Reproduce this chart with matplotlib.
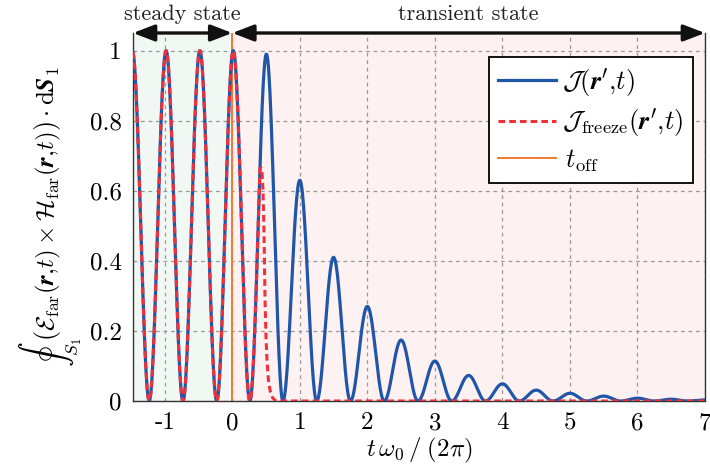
import numpy as np
import matplotlib
matplotlib.use('Agg')
import matplotlib.pyplot as plt
from matplotlib.ticker import FuncFormatter

plt.rcParams['font.family'] = 'serif'
plt.rcParams['font.serif'] = ['cmr10']
plt.rcParams['mathtext.fontset'] = 'cm'
plt.rcParams['axes.unicode_minus'] = False

# zeros of the blue curve and the height of each lobe between them
zero_t = [-1.73, -1.23, -0.73, -0.23, 0.26, 0.75, 1.25, 1.75, 2.25, 2.75,
          3.25, 3.75, 4.25, 4.75, 5.25, 5.75, 6.25, 6.75, 7.25]
lobe_peak = [1.0, 1.0, 1.0, 1.0, 0.99, 0.63, 0.41, 0.27, 0.174, 0.114,
             0.073, 0.049, 0.031, 0.022, 0.014, 0.008, 0.005, 0.003]

# frozen curve: follows the blue one until t_freeze, then falls off
t_freeze = 0.41
cut_t = [0.425, 0.44, 0.455, 0.47, 0.485, 0.50, 0.514, 0.535, 0.56, 0.60, 0.65, 7.0]
cut_v = [0.665, 0.655, 0.60, 0.48, 0.29, 0.18, 0.117, 0.06, 0.03, 0.008, 0.0, 0.0]

t_off = 0.0
x_min, x_max = -1.47, 7.0
x_ticks = [-1, 0, 1, 2, 3, 4, 5, 6, 7]
y_ticks = [0, 0.2, 0.4, 0.6, 0.8, 1]

blue = '#1f56a8'
red = '#f0303a'
orange = '#f07a30'


def lobes(zeros, peaks, n=60):
    ts, vs = [], []
    for a, b, h in zip(zeros[:-1], zeros[1:], peaks):
        s = np.linspace(0, 1, n)
        ts.append(a + (b - a) * s)
        vs.append(h * np.sin(np.pi * s) ** 2)
    return np.concatenate(ts), np.concatenate(vs)


t_j, v_j = lobes(zero_t, lobe_peak)
keep = t_j <= t_freeze
t_f = np.concatenate([t_j[keep], cut_t])
v_f = np.concatenate([v_j[keep], cut_v])

fig = plt.figure(figsize=(7.10, 4.68), dpi=100)
ax = fig.add_axes([133 / 710, 67 / 468, 572 / 710, 368 / 468])

ax.axvspan(x_min, t_off, color='#f1f8f3', zorder=0, lw=0)
ax.axvspan(t_off, x_max, color='#fdf1f1', zorder=0, lw=0)

ax.plot(t_j, v_j, color=blue, lw=2.3, label=r'$\boldsymbol{\mathcal{J}}(\boldsymbol{r}^{\prime}{,}t)$', zorder=3)
ax.plot(t_f, v_f, color=red, lw=2.2, dashes=(2.2, 1.3),
        label=r'$\boldsymbol{\mathcal{J}}_{\mathrm{freeze}}(\boldsymbol{r}^{\prime}{,}t)$', zorder=4)
ax.axvline(t_off, color=orange, lw=1.4, label=r'$\,t_{\mathrm{off}}$', zorder=2)

ax.set_xlim(x_min, x_max)
ax.set_ylim(0, 1.05)
ax.set_xticks(x_ticks)
ax.set_yticks(y_ticks)
ax.yaxis.set_major_formatter(FuncFormatter(lambda v, p: '%g' % v))
ax.tick_params(length=0, labelsize=18, pad=8)
ax.grid(True, color='#999999', ls=(0, (3, 3)), lw=0.9)
for s in ax.spines.values():
    s.set_linewidth(1.0)
    s.set_color('#333333')
ax.spines['top'].set_visible(False)

ax.set_xlabel(r'$t\,\omega_0\,/\;(2\pi)$', fontsize=18, labelpad=1)
ax.set_ylabel(r'$\oint_{S_1}\!\left(\boldsymbol{\mathcal{E}}_{\mathrm{far}}(\boldsymbol{r}{,}t)\times'
              r'\boldsymbol{\mathcal{H}}_{\mathrm{far}}(\boldsymbol{r}{,}t)\right)\cdot\mathrm{d}\boldsymbol{S}_1$',
              fontsize=18, labelpad=4)

# double arrows over the plot
arrow = dict(arrowstyle='<|-|>,head_length=1.3,head_width=0.5', color='#111111', lw=2.4,
             shrinkA=0, shrinkB=0)
ax.annotate('', xy=(x_min, 1.05), xytext=(t_off, 1.05), arrowprops=arrow, annotation_clip=False)
ax.annotate('', xy=(t_off, 1.05), xytext=(x_max, 1.05), arrowprops=arrow, annotation_clip=False)
ax.text((x_min + t_off) / 2, 1.075, 'steady state', ha='center', va='bottom', fontsize=16,
        color='#222222')
ax.text((t_off + x_max) / 2, 1.075, 'transient state', ha='center', va='bottom', fontsize=16,
        color='#222222')

leg = ax.legend(loc='upper right', bbox_to_anchor=(0.979, 0.935), borderaxespad=0,
                fancybox=False, framealpha=1, edgecolor='black', fontsize=19,
                handlelength=2.2, handletextpad=0.25, labelspacing=0.3, borderpad=0.35)
leg.get_frame().set_linewidth(1.3)

fig.savefig('out.png', dpi=100)
